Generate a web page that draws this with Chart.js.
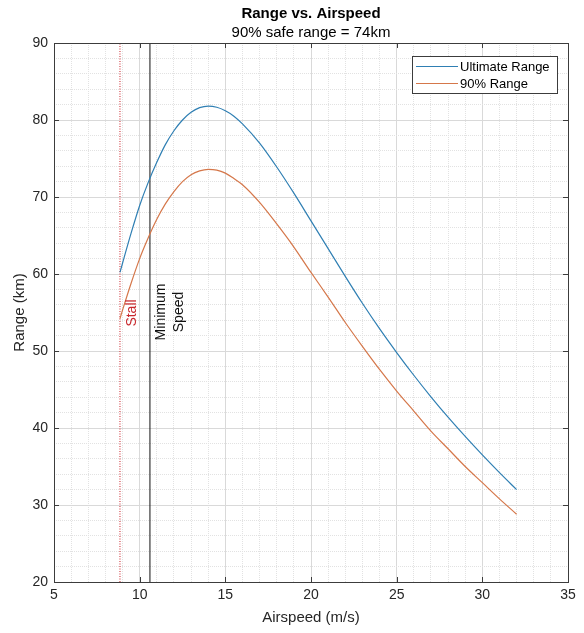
<!DOCTYPE html>
<html>
<head>
<meta charset="utf-8">
<script src="https://cdn.jsdelivr.net/npm/chart.js@4/dist/chart.umd.min.js"></script>
<style>
	html, body { margin: 0; padding: 0; background: #fff; }
</style>
</head>
<body>
<canvas id="rangeChart" width="584" height="633"></canvas>
<script>
// values
const airspeed = [8.85, 9, 9.5, 10, 10.5, 11, 11.5, 12, 12.5, 13, 13.5, 14, 14.5, 15, 15.5, 16, 17, 18, 19, 20, 21, 22, 23, 24, 25, 26, 27, 28, 29, 30, 31, 32];
const ultimateRange = [60.2, 61.4, 65.3, 68.9, 71.9, 74.5, 76.8, 78.6, 80.0, 81.0, 81.6, 81.8, 81.65, 81.2, 80.5, 79.5, 77.0, 73.9, 70.5, 66.9, 63.3, 59.7, 56.2, 52.9, 49.8, 46.85, 44.05, 41.4, 38.9, 36.5, 34.2, 32.0];
const safeRange = [54.2, 55.3, 58.8, 62.0, 64.7, 67.1, 69.1, 70.7, 72.0, 72.9, 73.4, 73.6, 73.5, 73.1, 72.4, 71.6, 69.3, 66.5, 63.5, 60.2, 57.0, 53.7, 50.6, 47.6, 44.8, 42.2, 39.6, 37.3, 35.0, 32.9, 30.8, 28.8];
const stallSpeed = 8.85;
const minSpeed = 10.6;
const xTickLabels = [5, 10, 15, 20, 25, 30, 35];
const yTickLabels = [20, 30, 40, 50, 60, 70, 80, 90];
const seriesNames = ['Ultimate Range', '90% Range'];

const FONT = "'Liberation Sans', Arial, sans-serif";
const blue = '#2f7fb3';
const orange = '#d5774a';

const toPoints = (xs, ys) => xs.map((x, i) => ({ x: x, y: ys[i] }));
const vline = (x) => [{ x: x, y: yTickLabels[0] }, { x: x, y: yTickLabels[yTickLabels.length - 1] }];

const isMajor = (v, list) => list.includes(Math.round(v * 100) / 100);

// box, inward ticks, titles, line labels and legend like a matlab figure
const matlabLook = {
	id: 'matlabLook',
	afterDatasetsDraw(chart) {
		const { ctx, scales } = chart;
		ctx.save();
		ctx.font = '14px ' + FONT;
		ctx.textAlign = 'center';
		ctx.textBaseline = 'middle';
		let sx = scales.x.getPixelForValue(stallSpeed);
		ctx.fillStyle = '#c8282d';
		ctx.translate(sx + 12, 313);
		ctx.rotate(-Math.PI / 2);
		ctx.fillText('Stall', 0, 0);
		ctx.restore();

		ctx.save();
		ctx.font = '14px ' + FONT;
		ctx.textAlign = 'center';
		ctx.textBaseline = 'middle';
		let mx = scales.x.getPixelForValue(minSpeed);
		ctx.fillStyle = '#111';
		ctx.translate(mx + 20, 312);
		ctx.rotate(-Math.PI / 2);
		ctx.fillText('Minimum', 0, -9);
		ctx.fillText('Speed', 0, 9);
		ctx.restore();
	},
	afterDraw(chart) {
		const { ctx, chartArea: a, scales } = chart;
		ctx.save();
		ctx.strokeStyle = '#3c3c3c';
		ctx.lineWidth = 1;
		ctx.strokeRect(Math.round(a.left) + 0.5, Math.round(a.top) + 0.5, Math.round(a.right - a.left), Math.round(a.bottom - a.top));
		ctx.beginPath();
		xTickLabels.forEach((v) => {
			let px = Math.round(scales.x.getPixelForValue(v)) + 0.5;
			ctx.moveTo(px, a.bottom); ctx.lineTo(px, a.bottom - 5);
			ctx.moveTo(px, a.top); ctx.lineTo(px, a.top + 5);
		});
		yTickLabels.forEach((v) => {
			let py = Math.round(scales.y.getPixelForValue(v)) + 0.5;
			ctx.moveTo(a.left, py); ctx.lineTo(a.left + 5, py);
			ctx.moveTo(a.right, py); ctx.lineTo(a.right - 5, py);
		});
		ctx.stroke();

		// titles
		ctx.fillStyle = '#000';
		ctx.textAlign = 'center';
		ctx.textBaseline = 'middle';
		let cx = (a.left + a.right) / 2;
		ctx.font = 'bold 15px ' + FONT;
		ctx.fillText('Range vs. Airspeed', cx, 14);
		ctx.font = '15px ' + FONT;
		ctx.fillText('90% safe range = 74km', cx, 33);

		// legend
		let lx = 412, ly = 56, lw = 145, lh = 37;
		ctx.fillStyle = '#fff';
		ctx.fillRect(lx, ly, lw, lh);
		ctx.strokeStyle = '#3c3c3c';
		ctx.strokeRect(lx + 0.5, ly + 0.5, lw, lh);
		ctx.font = '13px ' + FONT;
		ctx.textAlign = 'left';
		[blue, orange].forEach((c, i) => {
			let y = ly + 10 + i * 17;
			ctx.strokeStyle = c;
			ctx.beginPath();
			ctx.moveTo(lx + 4, y + 0.5);
			ctx.lineTo(lx + 46, y + 0.5);
			ctx.stroke();
			ctx.fillStyle = '#000';
			ctx.fillText(seriesNames[i], lx + 48, y + 1);
		});
		ctx.restore();
	}
};

const ctx = document.getElementById('rangeChart').getContext('2d');
const rangeChart = new Chart(ctx, {
	type: 'line',
	data: {
		datasets: [
			{
				label: seriesNames[0],
				data: toPoints(airspeed, ultimateRange),
				borderColor: blue,
				borderWidth: 1.2,
				pointRadius: 0,
				fill: false,
				cubicInterpolationMode: 'monotone'
			},
			{
				label: seriesNames[1],
				data: toPoints(airspeed, safeRange),
				borderColor: orange,
				borderWidth: 1.2,
				pointRadius: 0,
				fill: false,
				cubicInterpolationMode: 'monotone'
			},
			{
				label: 'Stall',
				data: vline(stallSpeed),
				borderColor: 'rgba(214, 80, 86, 0.85)',
				borderWidth: 1.5,
				borderDash: [1, 1.5],
				pointRadius: 0
			},
			{
				label: 'Minimum Speed',
				data: vline(minSpeed),
				borderColor: '#111',
				borderWidth: 1,
				pointRadius: 0
			}
		]
	},
	options: {
		responsive: false,
		animation: false,
		layout: { padding: { top: 43, right: 16, bottom: 0, left: 0 } },
		plugins: {
			legend: { display: false },
			tooltip: { enabled: false }
		},
		scales: {
			x: {
				type: 'linear',
				min: 5,
				max: 35,
				afterFit: (s) => { s.height = 51; },
				ticks: {
					stepSize: 1,
					autoSkip: false,
					maxRotation: 0,
					padding: 5,
					color: '#262626',
					font: { family: FONT, size: 14 },
					callback: (v) => (isMajor(v, xTickLabels) ? String(v) : '')
				},
				grid: {
					drawTicks: false,
					color: (c) => (c.tick && isMajor(c.tick.value, xTickLabels) ? '#d9d9d9' : '#e2e2e2')
				},
				border: {
					display: false,
					dash: (c) => (c.tick && isMajor(c.tick.value, xTickLabels) ? [] : [1, 1])
				},
				title: {
					display: true,
					text: 'Airspeed (m/s)',
					color: '#262626',
					font: { family: FONT, size: 15 },
					padding: { top: 0, bottom: 6 }
				}
			},
			y: {
				type: 'linear',
				min: 20,
				max: 90,
				afterFit: (s) => { s.width = 54; },
				ticks: {
					stepSize: 2,
					autoSkip: false,
					padding: 6,
					color: '#262626',
					font: { family: FONT, size: 14 },
					callback: (v) => (isMajor(v, yTickLabels) ? String(v) : '')
				},
				grid: {
					drawTicks: false,
					color: (c) => (c.tick && isMajor(c.tick.value, yTickLabels) ? '#d9d9d9' : '#e2e2e2')
				},
				border: {
					display: false,
					dash: (c) => (c.tick && isMajor(c.tick.value, yTickLabels) ? [] : [1, 1])
				},
				title: {
					display: true,
					text: 'Range (km)',
					color: '#262626',
					font: { family: FONT, size: 15 },
					padding: { top: 11, bottom: 0 }
				}
			}
		}
	},
	plugins: [matlabLook]
});
</script>
</body>
</html>
